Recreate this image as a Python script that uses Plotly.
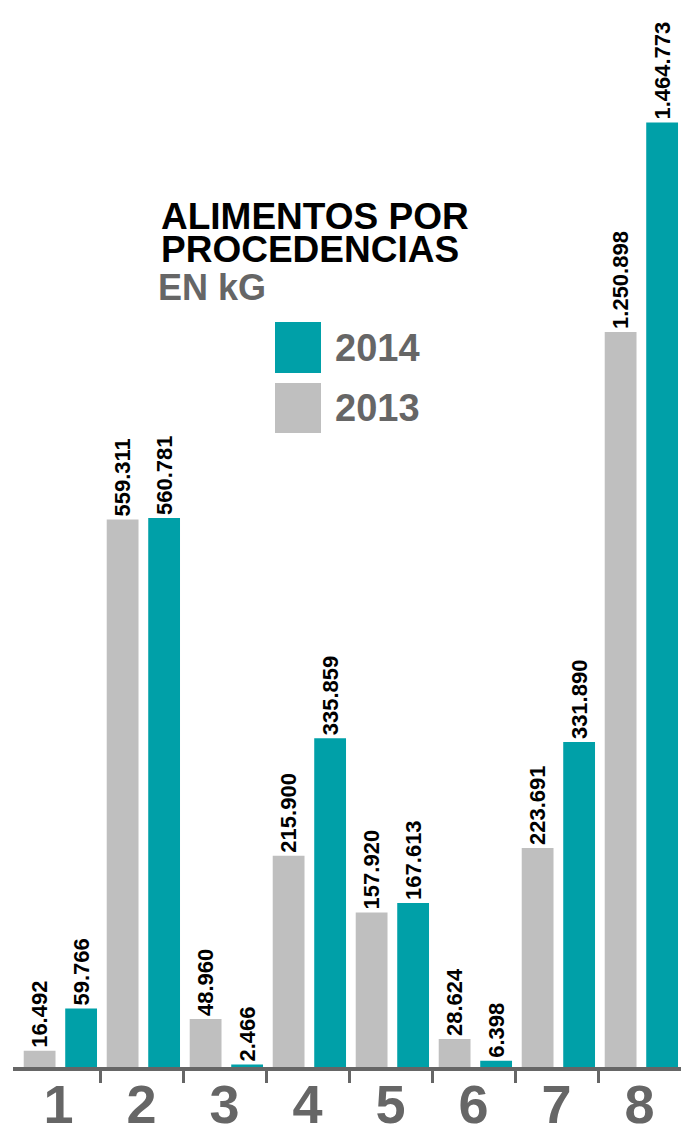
import plotly.graph_objects as go

# ---- data ----
categories = [1, 2, 3, 4, 5, 6, 7, 8]
tick_labels = ["1", "2", "3", "4", "5", "6", "7", "8"]
values_2013 = [16492, 559311, 48960, 215900, 157920, 28624, 223691, 1250898]
values_2014 = [59766, 560781, 2466, 335859, 167613, 6398, 331890, 1464773]
series_names = ["2013", "2014"]
title_lines = ["ALIMENTOS POR", "PROCEDENCIAS"]
subtitle = "EN kG"
# the last group is drawn on a broken axis that starts at this value
axis_break = 500000
broken_categories = [8]

# ---- styling ----
W, H = 681, 1124
M_L, M_R, M_T, M_B = 13, 0, 0, 57
PW, PH = W - M_L - M_R, H - M_T - M_B
Y_SPAN = 1090000
X_RANGE = [0.4518, 8.4999]
TEAL = "#00A0A8"
GRAY = "#BFBFBF"
DARK = "#666666"
FONT = "Liberation Sans, Arial, sans-serif"
BAR_W = 0.383
OFF_2013 = -0.419
OFF_2014 = 0.081


def px_x(px):
    return (px - M_L) / PW


def px_y(py):
    return (M_T + PH - py) / PH


fig = go.Figure()

def split(vals, broken):
    xs, ys = [], []
    for c, v in zip(categories, vals):
        if (c in broken_categories) == broken:
            xs.append(c)
            ys.append(v)
    return xs, ys

for name, vals, color, off in [("2013", values_2013, GRAY, OFF_2013),
                               ("2014", values_2014, TEAL, OFF_2014)]:
    for broken in (False, True):
        xs, ys = split(vals, broken)
        fig.add_trace(go.Bar(
            x=xs, y=ys, name=name,
            yaxis="y2" if broken else "y",
            width=BAR_W, offset=off,
            marker=dict(color=color, line=dict(width=0)),
            texttemplate="%{y:,.0f}",
            textposition="outside",
            textangle=-90,
            constraintext="none",
            cliponaxis=False,
            textfont=dict(family=FONT, size=22, color="black", weight="bold"),
            showlegend=False,
        ))

fig.update_layout(
    width=W, height=H,
    margin=dict(l=M_L, r=M_R, t=M_T, b=M_B, pad=0, autoexpand=False),
    paper_bgcolor="white", plot_bgcolor="white",
    barmode="overlay",
    separators=",.",
    showlegend=False,
    xaxis=dict(
        range=X_RANGE,
        automargin=False,
        tickmode="array", tickvals=categories, ticktext=tick_labels,
        ticks="",
        ticklabelstandoff=-13,
        showgrid=False, zeroline=False,
        showline=True, linewidth=4, linecolor=DARK,
        tickfont=dict(family=FONT, size=54, color=DARK, weight="bold"),
        minor=dict(tickmode="array",
                   tickvals=[c + 0.5 for c in categories[:-1]],
                   ticks="outside", ticklen=12, tickwidth=3, tickcolor=DARK,
                   showgrid=False),
    ),
    yaxis=dict(range=[0, Y_SPAN], visible=False, showgrid=False,
               zeroline=False, automargin=False),
    yaxis2=dict(range=[axis_break, axis_break + Y_SPAN], overlaying="y",
                visible=False, showgrid=False, zeroline=False, automargin=False),
)

# title block
title_y = [216.5, 249.5]
for line, py in zip(title_lines, title_y):
    fig.add_annotation(text=line, xref="paper", yref="paper",
                       x=px_x(159), y=px_y(py), xanchor="left", yanchor="middle",
                       showarrow=False,
                       font=dict(family=FONT, size=37, color="black", weight="bold"))
fig.add_annotation(text=subtitle, xref="paper", yref="paper",
                   x=px_x(156), y=px_y(287.5), xanchor="left", yanchor="middle",
                   showarrow=False,
                   font=dict(family=FONT, size=36, color=DARK, weight="bold"))

# custom legend
legend_items = [("2014", TEAL, 322, 373), ("2013", GRAY, 383, 433)]
for name, color, top, bot in legend_items:
    fig.add_shape(type="rect", xref="paper", yref="paper",
                  x0=px_x(275), x1=px_x(321), y0=px_y(bot), y1=px_y(top),
                  fillcolor=color, line=dict(width=0), layer="above")
    fig.add_annotation(text=name, xref="paper", yref="paper",
                       x=px_x(333), y=px_y((top + bot) / 2), xanchor="left",
                       yanchor="middle", showarrow=False,
                       font=dict(family=FONT, size=38, color=DARK, weight="bold"))

fig.write_html("out.html", config={"displayModeBar": False},
               post_script="document.body.style.margin='0';")
